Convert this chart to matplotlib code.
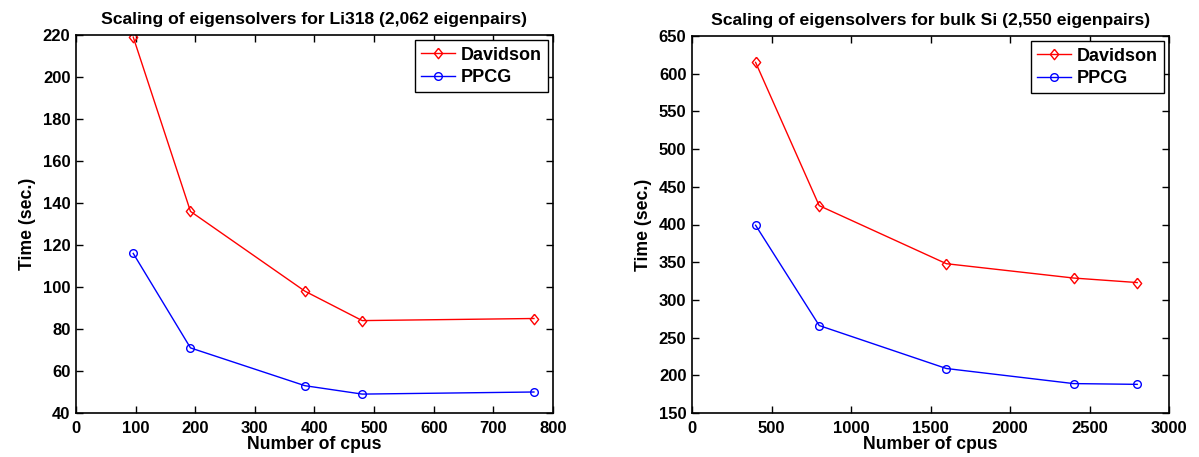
import matplotlib
matplotlib.use("Agg")
import matplotlib.pyplot as plt

plt.rcParams['font.family'] = ['Liberation Sans', 'DejaVu Sans']
plt.rcParams['font.weight'] = 'bold'

# Left panel: Li318
li_cpus = [96, 192, 384, 480, 768]
li_davidson = [219, 136, 98, 84, 85]
li_ppcg = [116, 71, 53, 49, 50]
li_title = "Scaling of eigensolvers for Li318 (2,062 eigenpairs)"

# Right panel: bulk Si
si_cpus = [400, 800, 1600, 2400, 2800]
si_davidson = [615, 425, 348, 329, 323]
si_ppcg = [399, 266, 209, 189, 188]
si_title = "Scaling of eigensolvers for bulk Si (2,550 eigenpairs)"

W, H = 1199, 457
fig = plt.figure(figsize=(W/100, H/100), dpi=100)

diamond = [(0, 1), (0.8, 0), (0, -1), (-0.8, 0), (0, 1)]

def make_ax(rect, cpus, dav, ppcg, title, xlim, xticks, ylim, yticks):
    ax = fig.add_axes(rect)
    ax.plot(cpus, dav, color='red', marker=diamond, markerfacecolor='none', markersize=7.5,
            markeredgewidth=1, lw=1, label='Davidson')
    ax.plot(cpus, ppcg, color='blue', marker='o', markerfacecolor='none', markersize=5.5,
            markeredgewidth=1, lw=1, label='PPCG')
    ax.set_xlim(*xlim)
    ax.set_ylim(*ylim)
    ax.set_xticks(xticks)
    ax.set_yticks(yticks)
    ax.tick_params(direction='in', top=True, right=True, labelsize=12, length=5, width=1)
    ax.tick_params(axis='x', pad=6)
    ax.tick_params(axis='y', pad=4)
    for lab in ax.get_xticklabels() + ax.get_yticklabels():
        lab.set_fontweight('bold')
    for s in ax.spines.values():
        s.set_linewidth(1.2)
    ax.set_title(title, fontsize=12.6, fontweight='bold', pad=8)
    ax.set_xlabel('Number of cpus', fontsize=12.7, fontweight='bold', labelpad=0)
    ax.set_ylabel('Time (sec.)', fontsize=12.7, fontweight='bold', labelpad=5)
    leg = ax.legend(loc='upper right', prop={'weight': 'bold', 'size': 13},
                    frameon=True, fancybox=False, edgecolor='black', framealpha=1,
                    borderpad=0.35, handlelength=1.85, handletextpad=0.3, labelspacing=0.3,
                    borderaxespad=0.3)
    leg.get_frame().set_linewidth(1.0)
    return ax

make_ax([76/W, (H-413)/H, 477/W, 378/H], li_cpus, li_davidson, li_ppcg, li_title,
        (0, 800), range(0, 801, 100), (40, 220), range(40, 221, 20))
make_ax([692/W, (H-413)/H, 477/W, 377/H], si_cpus, si_davidson, si_ppcg, si_title,
        (0, 3000), range(0, 3001, 500), (150, 650), range(150, 651, 50))

fig.savefig('out.png', dpi=100)
